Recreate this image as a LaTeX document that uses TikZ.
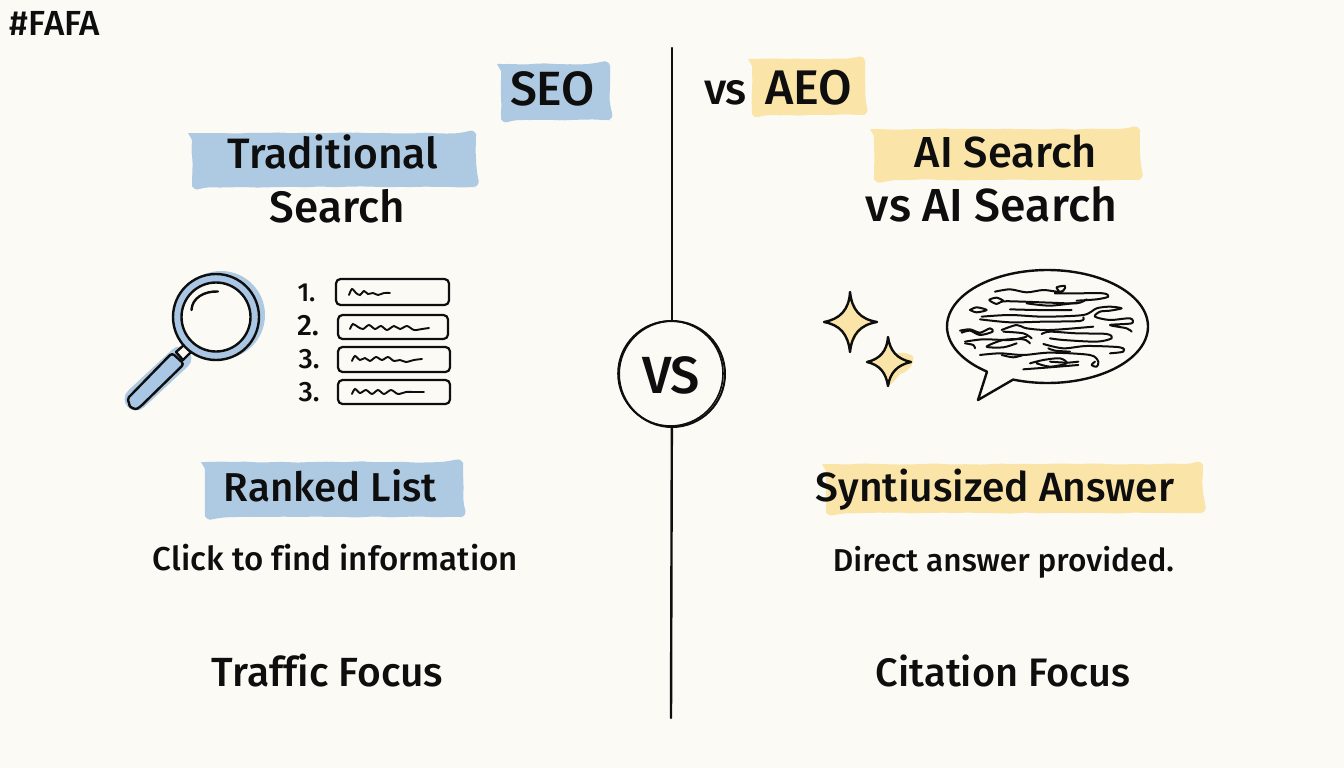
\documentclass[tikz,border=0pt]{standalone}
\usepackage{graphicx}
\usepackage{fontspec}
\setmainfont{Fira Sans}[UprightFont=* Medium,Ligatures=NoCommon]
\usetikzlibrary{decorations.pathmorphing}
\definecolor{paper}{HTML}{FBFAF5}
\definecolor{ink}{HTML}{0E0E0E}
\definecolor{hlblue}{HTML}{AECAE3}
\definecolor{hlyellow}{HTML}{FAE4A8}
\definecolor{glassblue}{HTML}{A9C6E4}
\newcommand{\wtext}[2]{\resizebox{#1pt}{!}{#2}}
\newcommand{\hlbox}[5]{\fill[#1,rounded corners=7pt,decorate,decoration={random steps,segment length=9pt,amplitude=0.7pt}] (#2,#3) rectangle (#4,#5);}
\tikzset{
  label text/.style={anchor=base,inner sep=0pt,text=ink},
  ink line/.style={draw=ink,line width=2.4pt,line cap=round,line join=round},
  scribble/.style={draw=ink,line width=2pt,line cap=round,line join=round},
  listbox/.style={draw=ink,line width=2.2pt,rounded corners=4.5pt},
  squiggle/.style={draw=ink,line width=1.9pt,line cap=round},
}
\begin{document}
\begin{tikzpicture}[x=1pt,y=-1pt]
\pgfmathsetseed{7}
\useasboundingbox (0,0) rectangle (1344,768);
\fill[paper] (0,0) rectangle (1344,768);
% highlights
\hlbox{hlblue}{501}{64}{610}{120}
\hlbox{hlyellow}{752}{59}{865}{115}
\hlbox{hlblue}{192}{133}{476}{187}
\hlbox{hlyellow}{874}{129}{1140}{180}
\hlbox{hlblue}{205}{462}{463}{517}
\hlbox{hlyellow}{826}{464}{1203}{513}
% texts
\node[label text] (tag) at (55,36) {\wtext{90}{\#FAFA}};
\node[label text] (seo) at (552.5,106) {\wtext{85}{SEO}};
\node[label text] (vs1) at (725.5,104) {\wtext{43}{vs}};
\node[label text] (aeo) at (808.5,104) {\wtext{87}{AEO}};
\node[label text] (trad) at (333,168) {\wtext{210}{Traditional}};
\node[label text] (search) at (337.5,222) {\wtext{135}{Search}};
\node[label text] (ais) at (1006,167) {\wtext{182}{AI Search}};
\node[label text] (vsais) at (991.5,221) {\wtext{251}{vs AI Search}};
\node[label text] (ranked) at (330.5,501) {\wtext{213}{Ranked List}};
\node[label text] (synth) at (995,501) {\wtext{358}{Syntiusized Answer}};
\node[label text] (click) at (335.5,570) {\wtext{365}{Click to find information}};
\node[label text] (direct) at (1003.5,571) {\wtext{341}{Direct answer provided.}};
\node[label text] (traffic) at (327.5,686) {\wtext{231}{Traffic Focus}};
\node[label text] (citation) at (1003,686) {\wtext{254}{Citation Focus}};
% centre divider
\node[circle,draw=ink,line width=2pt,minimum size=106pt,inner sep=0pt] (vsc) at (672,374) {};
\draw[ink,line width=1.6pt] (670.5,373.5) circle[radius=52.5pt];
\node[label text] (vst) at (671,393) {\wtext{58}{VS}};
\coordinate (top) at (672,48);
\coordinate (bottom) at (671,718);
\draw[ink line] (top) -- (vsc);
\draw[ink line] (vsc) -- (bottom);
% magnifier
\fill[hlblue] (221,315) circle[radius=44pt];
\draw[hlblue,line width=23pt,line cap=round] (180,358) -- (136,399);
\draw[ink line,fill=paper] (184,345) -- (191,352) -- (183,360) -- (176,352) -- cycle;
\draw[ink line,fill=glassblue] (216,317) circle[radius=43pt];
\draw[ink line,fill=paper] (216,317) circle[radius=34.5pt];
\draw[ink line] (191.5,310) .. controls (192,298) and (204,291) .. (218,291.5);
\draw[ink line,fill=glassblue,rounded corners=3pt] (172,353) -- (184,364) -- (140,407) .. controls (135,410) and (130,407) .. (129,403) .. controls (128,400) and (129,397) .. (131,395) -- cycle;
% ranked list
\node[label text] (n1) at (306.5,301) {\wtext{18}{1.}};
\node[label text] (n2) at (308,335) {\wtext{22}{2.}};
\node[label text] (n3) at (309,368) {\wtext{21}{3.}};
\node[label text] (n4) at (309,401) {\wtext{21}{3.}};
\draw[listbox] (336,279) rectangle (449,305);
\draw[listbox] (338,315) rectangle (448,339);
\draw[listbox] (338,347) rectangle (450,372);
\draw[listbox] (338,380) rectangle (450,404);
\draw[squiggle] plot[smooth] coordinates {(349,295) (352,289) (356,293) (360,295) (364,291) (368,294) (373,293) (378,295) (384,293) (390,293)};
\draw[squiggle] plot[smooth] coordinates {(350,329) (353,324) (358,327) (363,329) (369,325) (375,329) (381,326) (387,330) (394,326) (400,329) (407,326) (414,330) (422,329) (429,328)};
\draw[squiggle] plot[smooth] coordinates {(352,361) (355,356) (360,360) (365,358) (370,361) (376,357) (382,360) (388,357) (394,361) (400,360) (406,362) (414,360) (422,359)};
\draw[squiggle] plot[smooth] coordinates {(352,394) (355,389) (360,393) (366,390) (372,394) (378,390) (384,394) (391,390) (398,394) (406,392) (415,392) (424,392)};
% sparkles
\fill[hlyellow] (838,322) .. controls (850,318) and (852,310) .. (851,296) .. controls (856,312) and (864,320) .. (877,322) .. controls (862,326) and (854,336) .. (850,352) .. controls (848,340) and (846,330) .. (838,322) -- cycle;
\draw[ink line,fill=hlyellow] (824,322) .. controls (840,319) and (849,310) .. (850,292) .. controls (852,310) and (860,319) .. (877,322) .. controls (860,325) and (852,334) .. (850,352) .. controls (848,334) and (840,325) .. (824,322) -- cycle;
\fill[hlyellow] (892,354) .. controls (900,352) and (905,352) .. (913,356) .. controls (915,364) and (908,372) .. (900,374) .. controls (895,380) and (892,384) .. (888,386) -- cycle;
\draw[ink line,fill=hlyellow] (867,362) .. controls (880,359) and (887,351) .. (888,337) .. controls (890,351) and (897,359) .. (911,362) .. controls (897,365) and (890,373) .. (888,386) .. controls (886,373) and (880,365) .. (867,362) -- cycle;
% speech bubble
\coordinate (tail) at (978,400);
\draw[ink line] (tail) -- plot[domain=110:-233,samples=120] ({1047.5+100.5*cos(\x)},{326.5+56.5*sin(\x)}) -- cycle;
\begin{scope}[shift={(810pt,-260pt)},x=0.3333pt,y=-0.3333pt]
\draw[scribble] plot[smooth] coordinates {(555,95)(600,88)(650,97)(700,90)(745,95)(740,82)(765,78)(760,92)(735,100)(800,100)(880,100)(895,110)(860,118)(800,122)};
\draw[scribble] plot[smooth] coordinates {(580,122)(560,113)(538,120)(560,132)(580,124)(640,125)(720,128)(800,130)(830,118)};
\draw[scribble] plot[smooth] coordinates {(650,130)(720,137)(800,128)};
\draw[scribble] plot[smooth] coordinates {(480,150)(500,142)(530,150)(500,157)(480,150)};
\draw[scribble] plot[smooth] coordinates {(600,148)(680,150)(785,150)};
\draw[scribble] plot[smooth] coordinates {(515,170)(600,165)(700,170)(820,165)(860,145)(900,140)(935,145)(900,152)(870,155)(855,170)(900,180)(960,175)(965,190)(900,195)(950,205)(965,215)};
\draw[scribble] plot[smooth] coordinates {(510,178)(600,187)(700,185)(810,183)(820,172)};
\draw[scribble] plot[smooth] coordinates {(450,212)(480,208)(510,218)(540,205)(548,215)(510,225)(480,212)(455,218)};
\draw[scribble] plot[smooth] coordinates {(575,210)(620,195)(650,205)(720,210)(850,200)};
\draw[scribble] plot[smooth] coordinates {(580,215)(640,220)(665,235)};
\draw[scribble] plot[smooth] coordinates {(695,222)(720,215)(800,220)(890,222)(905,235)(860,245)(760,240)(720,235)};
\draw[scribble] plot[smooth] coordinates {(465,245)(520,238)(600,240)(650,230)};
\draw[scribble] plot[smooth] coordinates {(465,250)(490,255)(495,265)};
\draw[scribble] plot[smooth] coordinates {(660,250)(640,238)(580,240)(530,260)(580,262)(620,250)};
\draw[scribble] plot[smooth] coordinates {(700,252)(760,265)(830,258)(930,262)(940,275)(900,280)};
\draw[scribble] plot[smooth] coordinates {(715,265)(735,272)(780,275)};
\draw[scribble] plot[smooth] coordinates {(510,285)(570,280)(640,285)(720,278)(840,285)(865,305)(860,320)(845,315)(855,305)};
\draw[scribble] plot[smooth] coordinates {(575,285)(610,292)(640,285)};
\draw[scribble] plot[smooth] coordinates {(660,310)(700,300)(750,295)(770,310)(720,320)(680,310)};
\draw[scribble] plot[smooth] coordinates {(640,328)(720,322)(805,315)};
\draw[scribble] plot[smooth] coordinates {(720,305)(770,308)(805,305)};
\end{scope}
\end{tikzpicture}
\end{document}
